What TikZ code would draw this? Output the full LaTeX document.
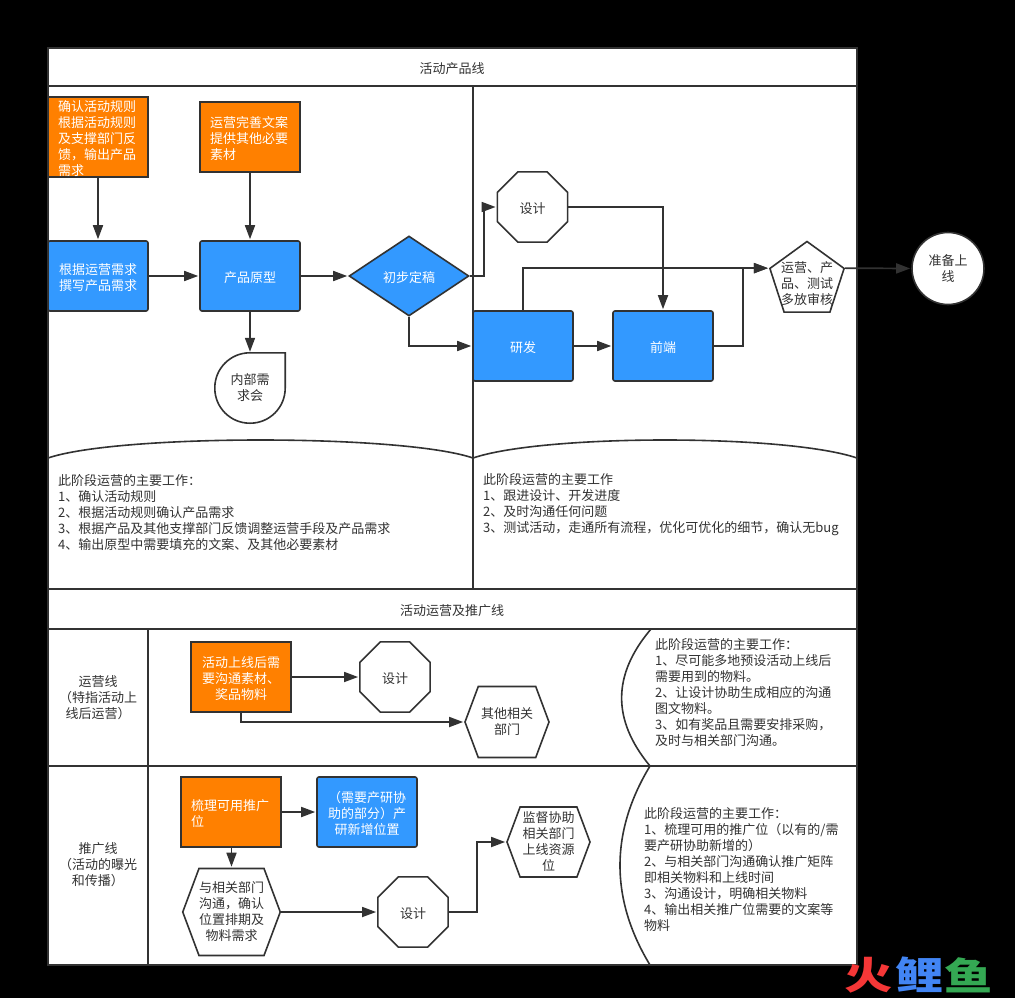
\documentclass[tikz,border=0pt]{standalone}
\usepackage{fontspec}
\setmainfont{Noto Sans CJK SC}
\usetikzlibrary{arrows.meta, positioning, shapes.geometric, shapes.symbols}

\definecolor{ink}{HTML}{323232}
\definecolor{boxblue}{HTML}{3399FF}
\definecolor{boxorange}{HTML}{FF8000}

\begin{document}
\begin{tikzpicture}[
    x=1pt, y=-1pt,
    >={Triangle[length=14pt, width=10pt]},
    every node/.style={font={\fontsize{13}{16}\selectfont}, text=ink, execute at begin node={\rule{0pt}{14pt}}}, % sets the text of every node
    line/.style={draw=ink, line width=1.6pt},
    flow/.style={->, draw=ink, fill=none, line width=1.7pt, shorten >=1pt},
    orangebox/.style={line, rectangle, fill=boxorange, text=white, minimum width=100pt, minimum height=70pt, inner xsep=10pt, inner ysep=0pt, text width=80pt},
    bluebox/.style={orangebox, fill=boxblue, rounded corners=2pt, align=center},
    decision/.style={line, diamond, fill=boxblue, text=white, aspect=1.5, minimum width=120pt, minimum height=80pt, inner sep=0pt},
    octa/.style={line, regular polygon, regular polygon sides=8, minimum size=76pt, fill=white, inner sep=0pt},
    penta/.style={line, regular polygon, regular polygon sides=5, minimum size=78pt, fill=white, inner sep=0pt},
    hexa/.style={line, signal, signal to=east and west, signal pointer angle=139, fill=white, inner sep=0pt, align=center},
    final/.style={line, circle, fill=white, minimum size=72pt, inner sep=0pt, align=center},
    note/.style={anchor=west, align=left, inner sep=0pt},
    logo/.style={font={\fontsize{38}{38}\selectfont\bfseries}, inner sep=0pt, xscale=1.27, transform shape}
  ]

  \fill[black] (0,0) rectangle (1015,998);
  \useasboundingbox (0,0) rectangle (1015,998);

  % the lanes
  \draw[line, fill=white] (48,48) rectangle (857,965);
  \draw[line] (48,86) -- (857,86);
  \draw[line] (473,86) -- (473,589);
  \draw[line] (48,589) -- (857,589);
  \draw[line] (48,629) -- (857,629);
  \draw[line] (48,766) -- (857,766);
  \draw[line] (148,629) -- (148,965);
  \draw[line] (48,458) .. controls (119,434) and (402,434) .. (473,458);
  \draw[line] (473,458) .. controls (544,434) and (786,434) .. (857,458);
  \draw[line] (651,629) .. controls (612,675) and (612,720) .. (650,766);
  \draw[line] (650,766) .. controls (610,832) and (610,899) .. (650,965);

  \node (title1) at (452,67) {活动产品线};
  \node (title2) at (452,609) {活动运营及推广线};
  \node[align=center] (lane1) at (98,698) {运营线\\（特指活动上\\线后运营）};
  \node[align=center] (lane2) at (98,864.5) {推广线\\（活动的曝光\\和传播）};

  % product line
  \node[orangebox, align=left, minimum height=80pt] (rules) at (98,137) {确认活动规则\\根据活动规则\\及支撑部门反\\馈，输出产品\\需求};
  \node[orangebox, align=left] (copy) at (250,137) {运营完善文案\\提供其他必要\\素材};
  \node[bluebox] (reqs) at (98,276) {根据运营需求\\撰写产品需求};
  \node[bluebox, right=50.4pt of reqs] (proto) {产品原型};
  \node[decision] (draft) at (409,276) {初步定稿};
  \node[minimum size=70pt, inner sep=0pt, align=center] (meet) at (250,388) {内部需\\求会};
  \node[octa] (design1) at (532.5,207) {设计};
  \node[bluebox] (dev) at (523,346) {研发};
  \node[bluebox, right=38.4pt of dev] (front) {前端};
  \node[penta, label={[align=center, yshift=-3pt]center:运营、产\\品、测试\\多放审核}] (review) at (807,280.5) {};
  \node[final] (launch) at (948,268.5) {准备上\\线};

  \draw[line] (meet.north) -- (meet.north east) -- (meet.east) [rounded corners=35pt] -- (meet.south east) -- (meet.south west) -- (meet.north west) -- (meet.north);

  \draw[flow] (rules) -- (reqs);
  \draw[flow] (copy) -- (proto);
  \draw[flow] (reqs) -- (proto);
  \draw[flow] (proto) -- (draft);
  \draw[flow] (proto) -- (meet);
  \draw[flow] (draft.east) -- ++(14,0) |- (design1.west);
  \draw[flow] (draft.south) |- (dev.west);
  \draw[flow] (design1.east) -| (front.north);
  \draw[flow] (dev) -- (front);
  \draw[flow] (dev.north) |- (review.corner 2);
  \draw[flow] (front.east) -- ++(29,0) |- (review.corner 2);
  \draw[flow] (review.corner 5) -- (launch.west);

  \node[note] (work1) at (58,513) {此阶段运营的主要工作：\\1、确认活动规则\\2、根据活动规则确认产品需求\\3、根据产品及其他支撑部门反馈调整运营手段及产品需求\\4、输出原型中需要填充的文案、及其他必要素材};
  \node[note] (work2) at (483,505) {此阶段运营的主要工作\\1、跟进设计、开发进度\\2、及时沟通任何问题\\3、测试活动，走通所有流程，优化可优化的细节，确认无bug};

  % operation line
  \node[orangebox, align=center] (material) at (241,677) {活动上线后需\\要沟通素材、\\奖品物料};
  \node[octa] (design2) at (395,677) {设计};
  \node[hexa, minimum width=84pt, minimum height=71pt] (other) at (507,722) {其他相关\\部门};
  \draw[flow] (material) -- (design2);
  \draw[flow] (material.south) |- (other.west);
  \node[note] (work3) at (655,692.5) {此阶段运营的主要工作：\\1、尽可能多地预设活动上线后\\需要用到的物料。\\2、让设计协助生成相应的沟通\\图文物料。\\3、如有奖品且需要安排采购，\\及时与相关部门沟通。};

  % promotion line
  \node[orangebox, align=left] (slots) at (231,812) {梳理可用推广\\位};
  \node[bluebox] (newslots) at (367,812) {（需要产研协\\助的部分）产\\研新增位置};
  \node[hexa, minimum width=97pt, minimum height=87pt] (talk) at (231.5,912) {与相关部门\\沟通，确认\\位置排期及\\物料需求};
  \node[octa] (design3) at (413,912) {设计};
  \node[hexa, minimum width=83pt, minimum height=70pt] (watch) at (548.5,842) {监督协助\\相关部门\\上线资源\\位};
  \draw[flow] (slots) -- (newslots);
  \draw[flow] (slots.south -| talk.north) -- (talk.north);
  \draw[flow] (talk.east) -- (design3.west);
  \draw[flow] (design3.east) -- ++(28,0) |- (watch.west);
  \node[note] (work4) at (644,870) {此阶段运营的主要工作：\\1、梳理可用的推广位（以有的/需\\要产研协助新增的）\\2、与相关部门沟通确认推广矩阵\\即相关物料和上线时间\\3、沟通设计，明确相关物料\\4、输出相关推广位需要的文案等\\物料};

  % watermark
  \node[logo, text={rgb,255:red,245;green,55;blue,55}] (logo1) at (869,975) {火};
  \node[logo, text={rgb,255:red,66;green,133;blue,244}] (logo2) at (919.5,975) {鲤};
  \node[logo, text={rgb,255:red,52;green,168;blue,83}] (logo3) at (968.5,975) {鱼};

\end{tikzpicture}
\end{document}
